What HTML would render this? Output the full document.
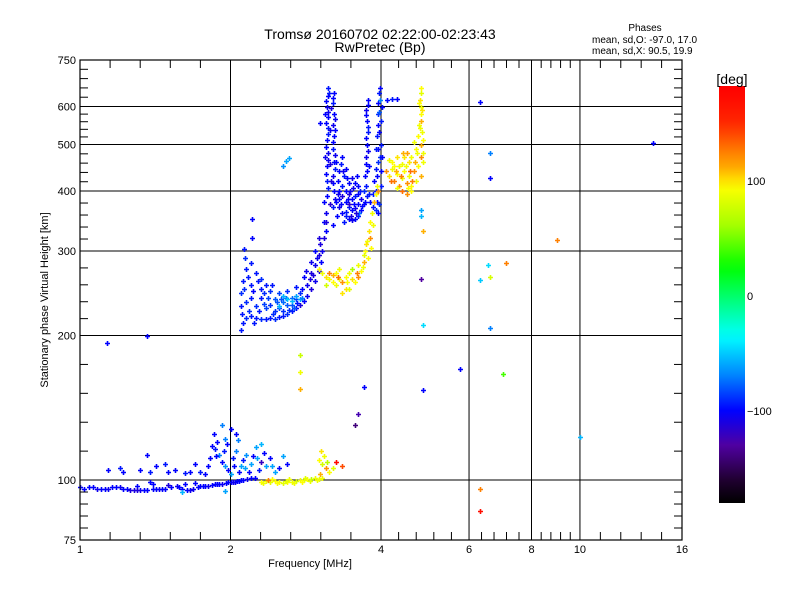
<!DOCTYPE html>
<html><head><meta charset="utf-8"><style>
html,body{margin:0;padding:0;background:#fff;}
svg{display:block;font-family:"Liberation Sans",sans-serif;}
</style></head><body>
<svg id="chart" width="800" height="600" viewBox="0 0 800 600">
<rect x="0" y="0" width="800" height="600" fill="#fff"/>
<text x="380" y="39" font-size="14" text-anchor="middle">Tromsø 20160702 02:22:00-02:23:43</text>
<text x="380" y="52" font-size="14" text-anchor="middle">RwPretec (Bp)</text>
<text x="645" y="31" font-size="10" text-anchor="middle">Phases</text>
<text x="592" y="43" font-size="10">mean, sd,O: -97.0, 17.0</text>
<text x="592" y="54" font-size="10">mean, sd,X:  90.5, 19.9</text>
<text x="310" y="567" font-size="11" text-anchor="middle">Frequency [MHz]</text>
<text transform="translate(48,300) rotate(-90)" font-size="11" text-anchor="middle">Stationary phase Virtual Height [km]</text>
<g id="grid"></g>
<g id="points"></g>
<g id="axes"></g>
<defs><linearGradient id="cbgrad" x1="0" y1="0" x2="0" y2="1"></linearGradient></defs>
<g id="colorbar"></g>
</svg>
<script>
// ---- data ----
const xTickValues = [1, 2, 4, 6, 8, 10, 16];
const xTickLabels = ["1", "2", "4", "6", "8", "10", "16"];
const xGridValues = [2, 4, 6, 8, 10];
const yTickValues = [75, 100, 200, 300, 400, 500, 600, 750];
const yTickLabels = ["75", "100", "200", "300", "400", "500", "600", "750"];
const yGridValues = [100, 200, 300, 400, 500, 600];
const cbTickValues = [100, 0, -100];
const cbTickLabels = ["100", "0", "\u2212100"];

// [frequency MHz, virtual height km, phase deg]
const oTraceBlob = [
[2.1,205,-95],[2.12,212,-95],[2.15,218,-90],[2.2,220,-95],[2.25,218,-95],[2.3,216,-90],[2.35,217,-95],[2.4,218,-95],[2.45,217,-90],[2.5,219,-95],[2.55,220,-95],[2.6,222,-90],[2.65,225,-95],[2.7,228,-100],[2.75,232,-110],[2.8,236,-100],[2.85,242,-105],[2.9,250,-110],[2.95,260,-105],[3.0,272,-110],[3.03,285,-100],[3.05,300,-105],[3.07,320,-110],[3.08,345,-100],
[2.1,230,-95],[2.1,245,-90],[2.12,260,-95],[2.15,275,-95],[2.14,290,-90],[2.2,283,-95],[2.25,270,-95],[2.3,262,-90],[2.35,255,-95],[2.4,248,-90],[2.5,245,-85],[2.6,248,-90],[2.7,252,-95],[2.8,265,-100],[2.9,285,-105],[2.95,300,-100],[3.0,320,-110],
[2.15,235,-90],[2.2,240,-95],[2.25,230,-90],[2.3,240,-95],[2.35,228,-85],[2.4,232,-90],[2.45,238,-80],[2.5,228,-85],[2.55,235,-75],[2.6,232,-80],[2.65,240,-75],[2.7,238,-85],[2.75,245,-90],[2.2,255,-95],[2.3,250,-95],[2.45,225,-90],[2.55,225,-90],[2.65,232,-80],[2.85,255,-105],[2.9,270,-110],[2.95,280,-105],[3.0,295,-110],[2.18,225,-90],[2.28,225,-95],[2.38,240,-85],[2.48,235,-80],[2.58,240,-75],[2.68,228,-80],
[2.5,230,-55],[2.6,238,-50],[2.65,236,-55],[2.7,242,-60],[2.55,242,-55],[2.75,238,-60],
[2.11,222,-95],[2.13,250,-90],[2.17,265,-95],[2.22,248,-100],[2.27,260,-95],[2.33,245,-90],[2.42,255,-95],[2.52,238,-80],[2.62,226,-90],[2.72,234,-95],[2.78,250,-100],[2.88,262,-110],[2.98,290,-105],[3.02,310,-110],[2.23,212,-95],[2.43,222,-90],[2.33,233,-85],[2.78,240,-70],[2.93,268,-110],[2.83,272,-105]
];
const oTraceSpikes = [
[3.1,330,-100],[3.11,360,-105],[3.12,390,-100],[3.12,420,-95],[3.12,450,-100],[3.13,480,-105],[3.12,510,-100],[3.13,540,-95],[3.13,570,-100],[3.12,600,-105],[3.13,630,-100],[3.14,655,-95],[3.1,345,-110],[3.14,405,-95],[3.11,435,-100],[3.14,465,-105],[3.1,495,-100],[3.14,525,-95],[3.11,555,-100],[3.14,585,-105],[3.11,615,-100],[3.15,640,-95],
[3.2,340,-100],[3.21,370,-95],[3.22,400,-100],[3.21,430,-105],[3.22,460,-100],[3.21,490,-95],[3.22,520,-100],[3.21,550,-105],[3.22,580,-100],[3.21,610,-95],[3.22,640,-100],[3.23,385,-105],[3.2,415,-100],[3.23,445,-95],[3.2,505,-100],[3.23,565,-105],[3.2,625,-100],
[3.72,380,-100],[3.74,410,-95],[3.75,440,-100],[3.74,470,-105],[3.75,500,-100],[3.76,530,-95],[3.75,560,-100],[3.74,590,-105],[3.76,620,-100],[3.78,395,-95],[3.73,455,-100],[3.77,485,-105],[3.73,515,-100],[3.77,545,-95],[3.73,575,-100],[3.77,605,-100],
[3.9,400,-95],[3.92,430,-100],[3.95,460,-90],[3.95,490,-100],[3.93,520,-95],[3.95,550,-100],[3.94,580,-90],[3.95,610,-100],[3.96,640,-95],[3.98,655,-100],[4.0,410,-95],[4.0,440,-100],[3.98,470,-90],[4.0,500,-95],[3.97,530,-100],[4.0,560,-95],[4.02,600,-100],[3.88,420,-100],[3.9,445,-95],[3.93,380,-100],[3.85,395,-95],[3.96,375,-90],
[4.12,620,-100],[4.2,622,-95],[4.3,622,-100],[3.02,555,-100],
[3.16,375,-115],[3.16,455,-110],[3.16,535,-105],[3.17,595,-110],[3.08,380,-100],[3.09,470,-105],[3.09,580,-100],[3.24,475,-105],[3.24,535,-100],[3.18,420,-110],[3.99,620,-70],[3.97,585,-80],[4.01,470,-100],[3.91,490,-95],[3.79,450,-100],[3.71,430,-100]
];
const oTraceBowl = [
[3.25,380,-100],[3.3,370,-105],[3.35,360,-100],[3.4,355,-95],[3.45,350,-100],[3.5,348,-105],[3.55,350,-100],[3.6,355,-95],[3.65,365,-100],[3.3,400,-100],[3.35,390,-110],[3.4,380,-100],[3.45,370,-95],[3.5,365,-100],[3.55,368,-105],[3.6,375,-100],[3.28,420,-100],[3.35,410,-95],[3.4,400,-100],[3.45,395,-110],[3.5,385,-100],[3.55,390,-95],[3.6,395,-100],[3.65,385,-105],[3.7,375,-100],[3.3,440,-100],[3.38,430,-95],[3.45,415,-100],[3.52,405,-105],[3.6,410,-100],[3.25,460,-100],[3.32,455,-95],[3.4,445,-100],[3.5,425,-105],[3.58,430,-100],[3.7,400,-90],[3.75,390,-95],[3.8,380,-100],[3.85,370,-95],[3.9,365,-90],[3.95,360,-100],[3.35,470,-100],[3.45,375,-115],[3.62,360,-75],[3.27,355,-100],[3.4,362,-95],[3.48,355,-110],[3.3,385,-100],
[3.28,395,-105],[3.33,375,-100],[3.38,345,-95],[3.43,385,-100],[3.47,400,-105],[3.53,375,-100],[3.57,360,-110],[3.63,400,-95],[3.67,372,-100],[3.42,425,-100],[3.36,440,-105],[3.55,415,-100]
];
const oTraceIsolated = [
[2.58,462,-60],[2.62,468,-60],[2.55,452,-65],[2.21,350,-100],[2.21,320,-100],[2.13,303,-95],[1.13,193,-100],[1.36,200,-100],[6.3,612,-100],[6.6,480,-70],[6.6,425,-100],[6.6,207,-70],[6.3,261,-50],[6.55,280,-45],[10,123,-55],[14,503,-100],[5.75,170,-100],[4.85,154,-100],[4.85,210,-45],[4.82,262,-130],[4.82,355,-55],[4.82,365,-60],[3.6,137,-125],[3.7,156,-100],[3.55,130,-140]
];
const xTrace = [
[3.0,275,95],[3.05,270,90],[3.1,265,100],[3.15,262,90],[3.2,268,110],[3.25,270,95],[3.3,262,90],[3.35,258,120],[3.4,265,95],[3.45,270,90],[3.5,262,100],[3.55,258,95],[3.6,265,120],[3.1,255,80],[3.2,258,95],[3.3,275,90],[3.4,250,100],[3.5,275,65],[3.65,272,95],[3.6,280,90],[3.7,285,110],[3.72,300,95],[3.75,315,90],[3.78,330,100],[3.8,345,95],[3.83,360,90],[3.87,380,110],[3.9,395,95],[3.92,410,90],[3.7,295,85],[3.74,310,100],[3.76,290,95],[3.8,320,120],[3.85,340,90],[3.82,305,95],[3.25,255,90],[3.45,250,85],[3.35,245,100],
[4.1,440,120],[4.15,430,100],[4.2,445,90],[4.25,420,125],[4.3,435,95],[4.35,410,120],[4.4,425,90],[4.45,440,95],[4.5,415,120],[4.55,430,90],[4.6,410,95],[4.65,440,120],[4.7,420,90],[4.75,450,95],[4.8,430,110],[4.85,460,90],[4.2,460,95],[4.3,470,100],[4.4,455,90],[4.5,480,115],[4.6,470,90],[4.7,490,95],[4.8,500,110],[4.85,480,90],[4.4,400,130],[4.5,395,120],[4.6,400,95],[4.3,405,90],[4.55,460,100],[4.65,505,90],[4.75,520,95],[4.35,450,90],[4.45,470,100],[4.25,450,95],[4.15,465,90],[4.8,470,120],[4.85,510,95],
[4.78,540,90],[4.8,560,110],[4.82,580,95],[4.8,600,90],[4.78,620,100],[4.82,640,85],[4.8,655,95],[4.76,550,90],[4.84,590,100],[4.76,610,95],[4.84,530,90],
[3.15,270,125],[3.28,265,130],[3.42,258,95],[3.58,270,125],[3.68,278,90],[3.95,400,120],[4.18,420,130],[4.28,440,110],[4.38,430,125],[4.48,450,90],[4.58,440,130],[4.68,460,110],[4.62,420,125],[4.72,480,90],[4.42,480,110],[4.52,405,95]
];
const xIsolated = [
[6.6,265,80],[6.3,96,125],[6.3,86,170],[7.1,283,125],[7.0,166,40],[9.0,317,125],[4.85,330,110],[2.75,182,75],[2.75,168,90],[2.75,155,110]
];
const eLayerO = [
[1.0,96.5,-100],[1.04,96.5,-100],[1.08,96,-105],[1.12,96,-100],[1.16,96.5,-100],[1.2,96.5,-105],[1.24,96,-100],[1.28,95.5,-110],[1.32,95.5,-105],[1.36,95.5,-100],[1.4,96,-100],[1.44,96,-105],[1.48,96,-100],[1.52,96.5,-100],[1.56,97,-105],[1.6,96,-100],[1.64,95.5,-100],[1.68,96,-105],[1.72,96.5,-100],[1.76,97,-100],[1.8,97,-105],[1.84,97.5,-100],[1.88,98,-100],[1.92,98,-105],[1.96,98.5,-100],[2.0,99,-100],[2.04,99,-105],[2.08,99.5,-100],[2.12,100,-100],[2.16,100.5,-105],[2.2,101,-100],[2.24,101,-100],[1.3,97,-100],[1.5,97.5,-110],[1.62,98,-100],[1.7,98.5,-100],[1.38,99,-100],[1.4,98,-100],[1.6,94.5,-55],[1.95,95,-60],
[1.02,96,-100],[1.06,96.5,-100],[1.1,96,-100],[1.14,96,-105],[1.18,96.5,-100],[1.22,96,-100],[1.26,95.5,-110],[1.3,95.5,-110],[1.34,95.5,-100],[1.42,96,-100],[1.46,96,-100],[1.58,96.5,-100],[1.66,95.5,-105],[1.74,97,-100],[1.78,97,-100],[1.86,98,-100],[1.9,98,-100],[1.98,99,-100],[2.02,99,-105],[2.06,99.5,-100],[2.1,100,-100]
];
const eLayerX = [
[2.3,99,95],[2.35,99.5,90],[2.4,99,85],[2.45,99.5,95],[2.5,99,90],[2.55,98.8,85],[2.6,99,95],[2.65,99.2,90],[2.7,99.5,80],[2.75,99.8,90],[2.8,100,85],[2.85,100.3,95],[2.9,100.5,70],[2.95,101,90],[3.0,100.5,85],[3.05,101,90],[2.42,100.5,95],[2.62,100.3,90],[2.82,101.2,85],[2.38,100,125],
[3.0,110,95],[3.05,108,80],[3.08,112,90],[3.1,106,120],[3.12,109,70],[3.15,104,95],[3.02,103,110],[3.2,106,85],[3.25,109,175],[3.35,107,140],[3.03,115,100],
[2.32,98.5,90],[2.48,98.8,95],[2.58,99.5,85],[2.68,98.8,90],[2.78,99.2,95],[2.88,99.5,85],[2.98,100,90]
];
const eScatter = [
[1.14,105,-100],[1.2,106,-95],[1.22,104,-100],[1.32,105,-100],[1.38,104,-95],[1.36,113,-100],[1.42,107,-100],[1.48,108,-95],[1.5,104,-100],[1.55,105,-100],[1.62,103.5,-95],[1.66,104,-100],[1.7,108,-100],[1.74,104,-95],[1.82,111,-100],[1.8,107,-100],[1.86,116,-95],[1.88,120,-100],[1.9,113,-70],[1.92,109,-100],[1.95,107,-65],[1.98,105,-100],[2.0,103,-60],[2.02,111,-95],[2.05,115,-70],[2.08,104,-100],[2.1,107,-60],[2.12,110,-95],[2.15,113,-65],[2.18,104,-100],[2.2,108,-60],[2.22,112,-100],[2.25,117,-60],[2.28,105,-95],[2.3,109,-120],[2.35,107,-60],[2.4,111,-100],[2.45,104,-60],[2.5,106,-100],[2.55,112,-60],[2.6,108,-100],[1.85,125,-100],[1.95,122,-70],[2.05,125,-100],[2.3,119,-55],[1.92,130,-70],[2.0,128,-100],
[1.84,118,-100],[1.87,112,-100],[1.94,115,-95],[1.97,119,-100],[2.03,107,-100],[2.07,121,-70],[2.14,106,-60],[2.26,111,-60],[2.33,114,-100],[2.42,107,-60],[1.78,103,-100]
];
const allGroups = [oTraceBlob, oTraceSpikes, oTraceBowl, oTraceIsolated, xTrace, xIsolated, eLayerO, eLayerX, eScatter];
const groupNames = ["o-trace-blob","o-trace-spike","o-trace-bowl","o-isolated","x-trace","x-isolated","e-layer-o","e-layer-x","e-scatter"];

// colormap stops (phase deg -> colour)
const cmapPhase = [180, 150, 125, 110, 95, 60, 25, -5, -35, -70, -100, -130, -160, -180];
const cmapColor = ["#ff0000","#ff2800","#ff8000","#ffb000","#ffff00","#a0ff00","#00ff00","#00ff80","#00ffff","#0080ff","#0000ff","#5000a0","#200030","#000000"];

// ---- scales ----
const PL = 80, PR = 682, PT = 60, PB = 540;
function xs(f){ return PL + (PR - PL) * Math.log(f) / Math.log(16); }
function ys(h){ return PB - (PB - PT) * Math.log10(h / 75); }
function cbY(p){ return 296 - p * 1.15; }
function hex(c){ return [parseInt(c.substr(1,2),16),parseInt(c.substr(3,2),16),parseInt(c.substr(5,2),16)]; }
function color(p){
  if (p >= cmapPhase[0]) return cmapColor[0];
  for (let i = 0; i < cmapPhase.length - 1; i++){
    if (p <= cmapPhase[i] && p >= cmapPhase[i+1]){
      const t = (cmapPhase[i] - p) / (cmapPhase[i] - cmapPhase[i+1]);
      const a = hex(cmapColor[i]), b = hex(cmapColor[i+1]);
      return "rgb(" + a.map((v,k)=>Math.round(v + (b[k]-v)*t)).join(",") + ")";
    }
  }
  return cmapColor[cmapColor.length-1];
}
const NS = "http://www.w3.org/2000/svg";
function mk(tag, attrs, parent){
  const e = document.createElementNS(NS, tag);
  for (const k in attrs) e.setAttribute(k, attrs[k]);
  parent.appendChild(e);
  return e;
}

// ---- grid ----
const grid = document.getElementById("grid");
xGridValues.forEach(v => {
  const l = mk("line", {x1: xs(v), x2: xs(v), y1: PT, y2: PB, stroke: "#000", "stroke-width": 1}, grid);
  
  
});
yGridValues.forEach(v => {
  const l = mk("line", {x1: PL, x2: PR, y1: ys(v), y2: ys(v), stroke: "#000", "stroke-width": 1}, grid);
  
  
});

// ---- points ----
const pts = document.getElementById("points");
allGroups.forEach((g, gi) => {
  const grp = mk("g", {}, pts);
  
  
  g.forEach(d => {
    const x = Math.round(xs(d[0])), y = Math.round(ys(d[1])), c = color(d[2]);
    const p = mk("path", {d: "M" + (x-2) + " " + (y+0.5) + "h5M" + (x+0.5) + " " + (y-2) + "v5", stroke: c, "stroke-width": 1.6, fill: "none"}, grp);
    
    
  });
});

// ---- axes ----
const ax = document.getElementById("axes");
const frame = mk("rect", {x: PL, y: PT, width: PR-PL, height: PB-PT, fill: "none", stroke: "#000", "stroke-width": 1.2}, ax);


for (let i = 0; i < xTickValues.length; i++){
  const x = xs(xTickValues[i]);
  const t = mk("text", {x: x, y: 553, "font-size": 11, "text-anchor": "middle"}, ax);
  t.textContent = xTickLabels[i];
  
  
  if (i < xTickValues.length - 1){
    const x2 = xs(xTickValues[i+1]);
    for (let k = 1; k < 5; k++){
      const xm = x + (x2 - x) * k / 5;
      const m1 = mk("line", {x1: xm, x2: xm, y1: PB, y2: PB-8, stroke: "#000"}, ax);
      
      
      const m2 = mk("line", {x1: xm, x2: xm, y1: PT, y2: PT+8, stroke: "#000"}, ax);
      
      
    }
  }
}
for (let i = 0; i < yTickValues.length; i++){
  const y = ys(yTickValues[i]);
  const t = mk("text", {x: 76, y: y + 4, "font-size": 11, "text-anchor": "end"}, ax);
  t.textContent = yTickLabels[i];
  
  
  if (i < yTickValues.length - 1){
    const y2 = ys(yTickValues[i+1]);
    for (let k = 1; k < 5; k++){
      const ym = y + (y2 - y) * k / 5;
      const m1 = mk("line", {x1: PL, x2: PL+8, y1: ym, y2: ym, stroke: "#000"}, ax);
      
      
      const m2 = mk("line", {x1: PR, x2: PR-8, y1: ym, y2: ym, stroke: "#000"}, ax);
      
      
    }
  }
}

// ---- colorbar ----
const grad = document.getElementById("cbgrad");
const cbTop = 86, cbBot = 503;
const pTop = (296 - cbTop) / 1.15, pBot = (296 - cbBot) / 1.15;
for (let k = 0; k <= 36; k++){
  const p = pTop + (pBot - pTop) * k / 36;
  mk("stop", {offset: (k/36*100) + "%", "stop-color": color(p)}, grad);
}
const cb = document.getElementById("colorbar");
const bar = mk("rect", {x: 719, y: cbTop, width: 26, height: cbBot - cbTop, fill: "url(#cbgrad)"}, cb);


const unit = mk("text", {x: 732, y: 84, "font-size": 14, "text-anchor": "middle"}, cb);
unit.textContent = "[deg]";


cbTickValues.forEach((v, i) => {
  const t = mk("text", {x: 747, y: cbY(v) + 4, "font-size": 11}, cb);
  t.textContent = cbTickLabels[i];
  
  
});
</script>
</body></html>
